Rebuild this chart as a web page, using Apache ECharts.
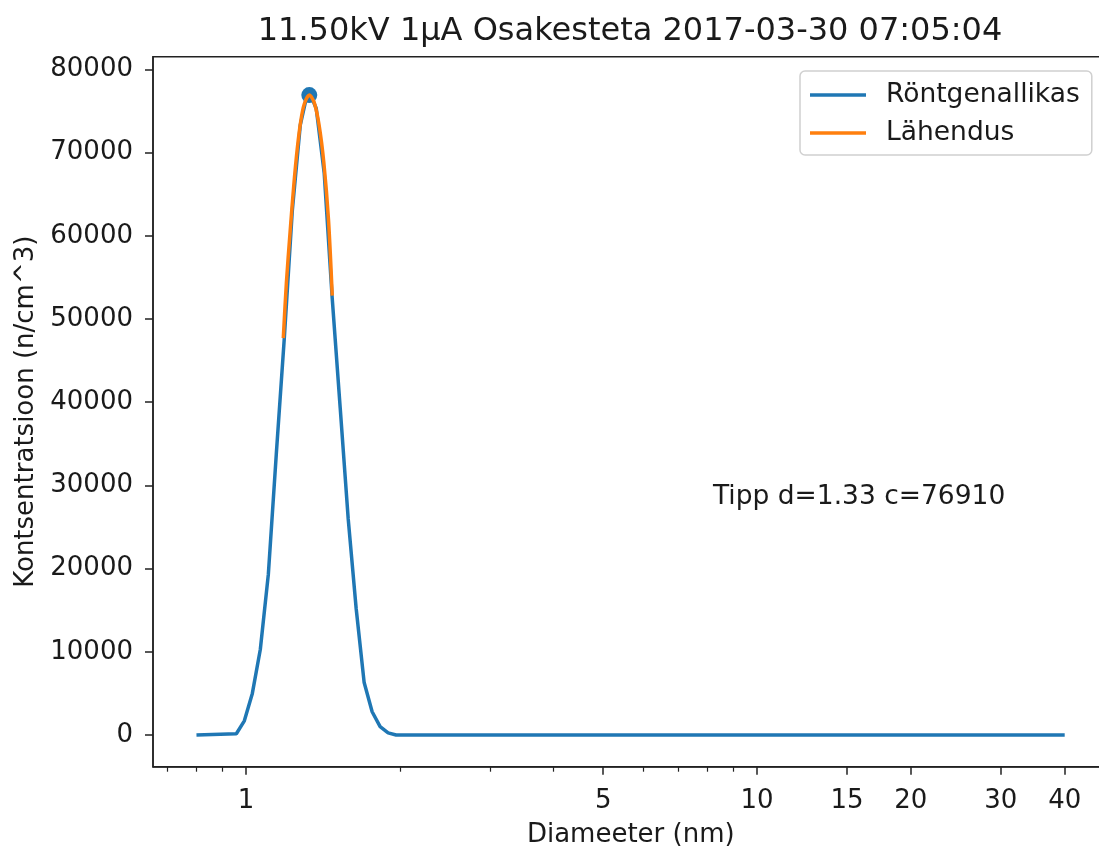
<!DOCTYPE html>
<html><head><meta charset="utf-8">
<script src="https://cdn.jsdelivr.net/npm/echarts@6/dist/echarts.min.js"></script>
<style>html,body{margin:0;padding:0;background:#fff}#chart{width:1099px;height:846px}</style>
</head><body><div id="chart"></div>
<script>
const titleText = '11.50kV 1µA Osakesteta 2017-03-30 07:05:04';
const xAxisName = 'Diameeter (nm)';
const yAxisName = 'Kontsentratsioon (n/cm^3)';
const seriesNames = ['Röntgenallikas', 'Lähendus'];

// measured spectrum (diameter nm, concentration n/cm^3)
const diameters = [0.80, 0.9575, 0.9926, 1.0290, 1.0668, 1.1059, 1.1464, 1.1884, 1.2319, 1.2771, 1.3239, 1.3724, 1.4226, 1.4747, 1.5288, 1.5848, 1.6428, 1.7030, 1.7654, 1.8301, 1.8971, 1.9666, 40.0];
const concentrations = [0, 150, 1700, 5000, 10300, 19300, 33800, 47700, 63000, 73300, 77600, 75300, 67500, 52500, 39300, 26000, 15200, 6300, 2800, 1000, 250, 0, 0];

// fitted curve
const fitDiameters = [1.183, 1.200, 1.220, 1.240, 1.260, 1.280, 1.300, 1.330, 1.360, 1.390, 1.420, 1.450, 1.475];
const fitValues = [47700, 54500, 60500, 66000, 70500, 73800, 75800, 76910, 76000, 73300, 68800, 62000, 52800];

const peakD = 1.33;
const peakC = 76910;
const annotationAt = [8.2, 28600];

const xMajorTicks = [1, 5, 10, 15, 20, 30, 40];
const xMinorTicks = [0.7, 0.8, 0.9, 2, 3, 4, 6, 7, 8, 9];
const yTicks = [0, 10000, 20000, 30000, 40000, 50000, 60000, 70000, 80000];
const xRange = [0.6577, 48.75];
const yRange = [-3810, 81520];

const TXT = '#1a1a1a';
const FONT = 'DejaVu Sans';
const chart = echarts.init(document.getElementById('chart'), null, {renderer: 'canvas'});
const lx = [Math.log10(xRange[0]), Math.log10(xRange[1])];

chart.setOption({
  animation: false,
  backgroundColor: '#fff',
  textStyle: {fontFamily: FONT, color: TXT},
  title: {
    text: titleText, left: 630, top: 16, textAlign: 'center', padding: 0,
    textStyle: {fontFamily: FONT, fontSize: 32, fontWeight: 'normal', color: TXT}
  },
  grid: {
    left: 153, top: 56.7, width: 955.6, bottom: 79.3,
    show: true, borderColor: '#222', borderWidth: 1.5, backgroundColor: 'transparent',
    containLabel: false, outerBoundsMode: 'none'
  },
  legend: {
    data: seriesNames, orient: 'vertical', left: 800, top: 71,
    icon: 'rect', itemWidth: 56, itemHeight: 3.5, itemGap: 8,
    padding: [9, 12, 7, 10],
    backgroundColor: '#fff', borderColor: '#d0d0d0', borderWidth: 1.5, borderRadius: 5,
    textStyle: {fontFamily: FONT, fontSize: 26.5, color: TXT, lineHeight: 30, padding: [0, 0, 0, 15]}
  },
  xAxis: [
    {
      type: 'log', logBase: 10, min: xRange[0], max: xRange[1], position: 'bottom',
      axisLine: {show: false, onZero: false}, axisTick: {show: false}, axisLabel: {show: false}, splitLine: {show: false}
    },
    {
      type: 'value', min: lx[0], max: lx[1], position: 'bottom',
      name: xAxisName, nameLocation: 'middle', nameGap: 56,
      nameTextStyle: {fontFamily: FONT, fontSize: 26, color: TXT},
      axisLine: {show: true, onZero: false, lineStyle: {color: '#222', width: 1.5}},
      axisTick: {show: true, length: 8, lineStyle: {color: '#222', width: 1.5}, customValues: xMajorTicks.map(Math.log10)},
      axisLabel: {show: true, margin: 22, fontFamily: FONT, fontSize: 26, color: TXT,
        customValues: xMajorTicks.map(Math.log10),
        formatter: v => String(Math.round(Math.pow(10, v)))},
      splitLine: {show: false}
    },
    {
      type: 'value', min: lx[0], max: lx[1], position: 'bottom',
      axisLine: {show: false, onZero: false},
      axisTick: {show: true, length: 5, lineStyle: {color: '#222', width: 1.2}, customValues: xMinorTicks.map(Math.log10)},
      axisLabel: {show: false},
      splitLine: {show: false}
    }
  ],
  yAxis: {
    type: 'value', min: yRange[0], max: yRange[1],
    name: yAxisName, nameLocation: 'middle', nameGap: 108,
    nameTextStyle: {fontFamily: FONT, fontSize: 26, color: TXT},
    axisLine: {show: true, onZero: false, lineStyle: {color: '#222', width: 1.5}},
    axisTick: {show: true, length: 8, lineStyle: {color: '#222', width: 1.5}, customValues: yTicks},
    axisLabel: {show: true, margin: 20, fontFamily: FONT, fontSize: 26, color: TXT, customValues: yTicks,
      formatter: v => String(v)},
    splitLine: {show: false}
  },
  series: [
    {
      name: seriesNames[0], type: 'line', xAxisIndex: 0, yAxisIndex: 0,
      data: diameters.map((d, i) => [d, concentrations[i]]),
      showSymbol: false, symbol: 'none', z: 2,
      lineStyle: {color: '#1f77b4', width: 3.5}, itemStyle: {color: '#1f77b4'}
    },
    {
      name: 'peak', type: 'scatter', xAxisIndex: 0, yAxisIndex: 0,
      data: [[peakD, peakC]], symbolSize: 16, z: 3, silent: true,
      itemStyle: {color: '#1f77b4', opacity: 1}
    },
    {
      name: seriesNames[1], type: 'line', xAxisIndex: 0, yAxisIndex: 0,
      data: fitDiameters.map((d, i) => [d, fitValues[i]]),
      showSymbol: false, symbol: 'none', smooth: 0.3, z: 4,
      lineStyle: {color: '#ff7f0e', width: 3.5}, itemStyle: {color: '#ff7f0e'}
    },
    {
      name: 'annotation', type: 'scatter', xAxisIndex: 0, yAxisIndex: 0,
      data: [annotationAt], symbolSize: 0, silent: true, z: 5,
      itemStyle: {opacity: 1},
      label: {show: true, position: 'right', distance: 0, fontFamily: FONT, fontSize: 26.5, color: TXT, opacity: 1,
        formatter: () => 'Tipp d=' + peakD + ' c=' + peakC}
    }
  ]
});
</script></body></html>
